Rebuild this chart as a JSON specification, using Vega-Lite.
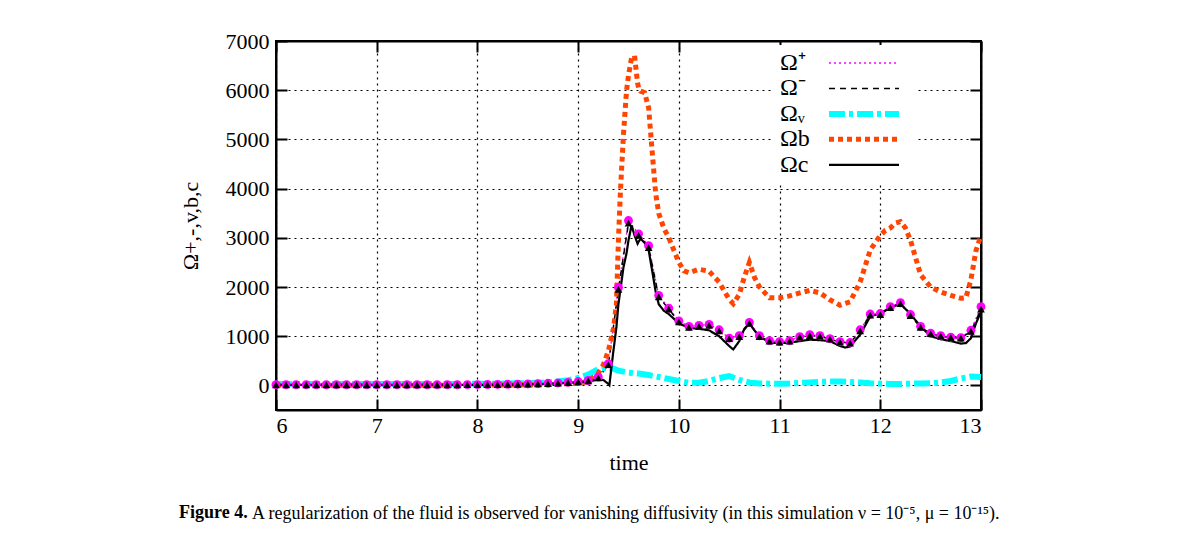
{
  "$schema": "https://vega.github.io/schema/vega-lite/v6.json",
  "autosize": {"type": "pad"},
  "padding": {"left": 178, "top": 29, "right": 0, "bottom": 0},
  "background": "white",
  "bounds": "flush",
  "spacing": 0,
  "config": {
    "font": "Liberation Serif",
    "view": {"stroke": "black", "strokeWidth": 2},
    "axis": {
      "labelFont": "Liberation Serif", "labelFontSize": 22, "labelColor": "black",
      "titleFont": "Liberation Serif", "titleFontSize": 22, "titleFontWeight": "normal", "titleColor": "black",
      "domainColor": "black", "domainWidth": 2, "tickColor": "black", "tickWidth": 2, "tickSize": -11,
      "gridColor": "black", "gridDash": [2, 4], "gridWidth": 1.2, "gridOpacity": 1
    },
    "legend": {
      "orient": "none", "legendX": 497, "legendY": 4, "fillColor": "white", "padding": 6,
      "symbolType": "M-7,0H7", "symbolSize": 100, "rowPadding": 1.45,
      "labelFont": "Liberation Serif", "labelFontSize": 24, "labelColor": "black",
      "labelAlign": "left", "labelOffset": -96, "symbolOffset": 73, "labelLimit": 0
    }
  },
  "title": {
    "text": "A regularization of the fluid is observed for vanishing diffusivity (in this simulation ν = 10⁻⁵, μ = 10⁻¹⁵).",
    "orient": "bottom", "anchor": "start", "dx": 74, "offset": -18,
    "fontSize": 18, "fontWeight": "normal", "font": "Liberation Serif", "color": "black"
  },
  "datasets": {
    "d": [
      {"t": 6.0, "plus": 15, "minus": 12, "v": 30, "b": 5, "c": 10},
      {"t": 6.1, "plus": 15, "minus": 12, "v": 30, "b": 5, "c": 10},
      {"t": 6.2, "plus": 15, "minus": 12, "v": 30, "b": 5, "c": 10},
      {"t": 6.3, "plus": 15, "minus": 12, "v": 30, "b": 5, "c": 10},
      {"t": 6.4, "plus": 15, "minus": 12, "v": 30, "b": 5, "c": 10},
      {"t": 6.5, "plus": 15, "minus": 12, "v": 30, "b": 5, "c": 10},
      {"t": 6.6, "plus": 15, "minus": 12, "v": 30, "b": 5, "c": 10},
      {"t": 6.7, "plus": 15, "minus": 12, "v": 30, "b": 5, "c": 10},
      {"t": 6.8, "plus": 15, "minus": 12, "v": 30, "b": 5, "c": 10},
      {"t": 6.9, "plus": 15, "minus": 12, "v": 30, "b": 5, "c": 10},
      {"t": 7.0, "plus": 15, "minus": 12, "v": 30, "b": 5, "c": 10},
      {"t": 7.1, "plus": 15, "minus": 12, "v": 30, "b": 5, "c": 10},
      {"t": 7.2, "plus": 15, "minus": 12, "v": 30, "b": 5, "c": 10},
      {"t": 7.3, "plus": 15, "minus": 12, "v": 30, "b": 5, "c": 10},
      {"t": 7.4, "plus": 15, "minus": 12, "v": 30, "b": 5, "c": 10},
      {"t": 7.5, "plus": 15, "minus": 12, "v": 30, "b": 5, "c": 10},
      {"t": 7.6, "plus": 15, "minus": 12, "v": 30, "b": 5, "c": 10},
      {"t": 7.7, "plus": 15, "minus": 12, "v": 30, "b": 5, "c": 10},
      {"t": 7.8, "plus": 15, "minus": 12, "v": 31, "b": 5, "c": 10},
      {"t": 7.9, "plus": 16, "minus": 13, "v": 31, "b": 5, "c": 11},
      {"t": 8.0, "plus": 16, "minus": 13, "v": 32, "b": 5, "c": 11},
      {"t": 8.1, "plus": 18, "minus": 15, "v": 33, "b": 6, "c": 12},
      {"t": 8.2, "plus": 20, "minus": 17, "v": 35, "b": 7, "c": 14},
      {"t": 8.3, "plus": 22, "minus": 19, "v": 38, "b": 9, "c": 16},
      {"t": 8.4, "plus": 25, "minus": 22, "v": 42, "b": 11, "c": 18},
      {"t": 8.5, "plus": 30, "minus": 26, "v": 48, "b": 14, "c": 22},
      {"t": 8.6, "plus": 35, "minus": 30, "v": 55, "b": 17, "c": 26},
      {"t": 8.7, "plus": 42, "minus": 36, "v": 65, "b": 21, "c": 32},
      {"t": 8.8, "plus": 50, "minus": 45, "v": 80, "b": 27, "c": 40},
      {"t": 8.9, "plus": 62, "minus": 55, "v": 105, "b": 34, "c": 50},
      {"t": 9.0, "plus": 78, "minus": 70, "v": 150, "b": 45, "c": 62},
      {"t": 9.1, "plus": 100, "minus": 92, "v": 220, "b": 80, "c": 80},
      {"t": 9.2, "plus": 170, "minus": 150, "v": 330, "b": 250, "c": 120},
      {"t": 9.25, "v": 350, "b": 420, "c": 110},
      {"t": 9.3, "plus": 440, "minus": 420, "v": 360, "b": 700, "c": 30},
      {"t": 9.31, "c": 5},
      {"t": 9.35, "v": 340, "b": 1150, "c": 700},
      {"t": 9.38, "b": 1650, "c": 1180},
      {"t": 9.4, "plus": 1990, "minus": 1950, "v": 300, "b": 2950, "c": 1650},
      {"t": 9.42, "b": 3950},
      {"t": 9.45, "b": 5100, "c": 2400},
      {"t": 9.48, "b": 5980, "c": 2680},
      {"t": 9.5, "plus": 3350, "minus": 3300, "v": 260, "b": 6300, "c": 2950},
      {"t": 9.53, "b": 6650, "c": 3250},
      {"t": 9.56, "b": 6700, "c": 3050},
      {"t": 9.59, "b": 6150, "c": 2880},
      {"t": 9.6, "plus": 3080, "minus": 3050, "v": 240, "b": 6050, "c": 2920},
      {"t": 9.62, "b": 5980, "c": 2980},
      {"t": 9.66, "b": 5950, "c": 2900},
      {"t": 9.7, "plus": 2840, "minus": 2800, "v": 210, "b": 5640, "c": 2750},
      {"t": 9.74, "b": 4630, "c": 2270},
      {"t": 9.77, "b": 3900, "c": 1900},
      {"t": 9.8, "plus": 1830, "minus": 1800, "v": 170, "b": 3500, "c": 1650},
      {"t": 9.85, "b": 3200, "c": 1520},
      {"t": 9.9, "plus": 1570, "minus": 1550, "v": 130, "b": 3000, "c": 1450},
      {"t": 10.0, "plus": 1310, "minus": 1290, "v": 90, "b": 2500, "c": 1260},
      {"t": 10.05, "b": 2330},
      {"t": 10.1, "plus": 1200, "minus": 1180, "v": 50, "b": 2290, "c": 1170},
      {"t": 10.2, "plus": 1220, "minus": 1200, "v": 55, "b": 2360, "c": 1150},
      {"t": 10.3, "plus": 1240, "minus": 1220, "v": 90, "b": 2320, "c": 1120},
      {"t": 10.4, "plus": 1130, "minus": 1110, "v": 150, "b": 2100, "c": 1000},
      {"t": 10.45, "b": 1920, "c": 900},
      {"t": 10.5, "plus": 960, "minus": 950, "v": 190, "b": 1750, "c": 800},
      {"t": 10.54, "b": 1660, "c": 730},
      {"t": 10.6, "plus": 1010, "minus": 990, "v": 110, "b": 1850, "c": 900},
      {"t": 10.65, "b": 2200, "c": 1150},
      {"t": 10.7, "plus": 1280, "minus": 1260, "v": 60, "b": 2500, "c": 1260},
      {"t": 10.75, "b": 2200, "c": 1120},
      {"t": 10.8, "plus": 1010, "minus": 990, "v": 40, "b": 2000, "c": 1000},
      {"t": 10.9, "plus": 910, "minus": 900, "v": 35, "b": 1780, "c": 870},
      {"t": 11.0, "plus": 890, "minus": 880, "v": 35, "b": 1780, "c": 860},
      {"t": 11.1, "plus": 910, "minus": 900, "v": 40, "b": 1820, "c": 870},
      {"t": 11.2, "plus": 990, "minus": 980, "v": 50, "b": 1880, "c": 900},
      {"t": 11.3, "plus": 1030, "minus": 1010, "v": 60, "b": 1930, "c": 930},
      {"t": 11.4, "plus": 1010, "minus": 1000, "v": 70, "b": 1880, "c": 920},
      {"t": 11.5, "plus": 950, "minus": 940, "v": 80, "b": 1740, "c": 900},
      {"t": 11.6, "plus": 890, "minus": 880, "v": 80, "b": 1630, "c": 800},
      {"t": 11.65, "c": 770},
      {"t": 11.7, "plus": 870, "minus": 860, "v": 70, "b": 1700, "c": 790},
      {"t": 11.8, "plus": 1130, "minus": 1110, "v": 60, "b": 2100, "c": 1030},
      {"t": 11.9, "plus": 1450, "minus": 1430, "v": 45, "b": 2750, "c": 1400},
      {"t": 12.0, "plus": 1460, "minus": 1440, "v": 35, "b": 3050, "c": 1470},
      {"t": 12.05, "b": 3150},
      {"t": 12.1, "plus": 1600, "minus": 1580, "v": 30, "b": 3200, "c": 1580},
      {"t": 12.15, "b": 3300},
      {"t": 12.2, "plus": 1680, "minus": 1660, "v": 30, "b": 3330, "c": 1660},
      {"t": 12.25, "b": 3200},
      {"t": 12.3, "plus": 1440, "minus": 1420, "v": 35, "b": 2950, "c": 1450},
      {"t": 12.4, "plus": 1200, "minus": 1180, "v": 40, "b": 2250, "c": 1200},
      {"t": 12.5, "plus": 1060, "minus": 1050, "v": 45, "b": 2000, "c": 1000},
      {"t": 12.6, "plus": 1010, "minus": 1000, "v": 60, "b": 1900, "c": 940},
      {"t": 12.7, "plus": 980, "minus": 970, "v": 90, "b": 1830, "c": 900},
      {"t": 12.8, "plus": 970, "minus": 960, "v": 140, "b": 1770, "c": 850},
      {"t": 12.85, "b": 1780, "c": 860},
      {"t": 12.9, "plus": 1120, "minus": 1100, "v": 180, "b": 2150, "c": 960},
      {"t": 12.95, "b": 2740, "c": 1260},
      {"t": 13.0, "plus": 1600, "minus": 1550, "v": 170, "b": 3050, "c": 1500}
    ]
  },
  "vconcat": [
    {
      "width": 705,
      "height": 369,
      "data": {"name": "d"},
      "title": {
        "text": "Figure 4.", "orient": "bottom", "anchor": "start", "dx": 0, "offset": 31,
        "fontSize": 18, "fontWeight": "bold", "font": "Liberation Serif", "color": "black"
      },
      "resolve": {"axis": {"x": "independent", "y": "independent"}},
      "layer": [
        {
          "transform": [{"fold": ["plus", "minus", "v", "b", "c"], "as": ["series", "value"]}],
          "mark": {"type": "line", "strokeCap": "butt", "invalid": "filter"},
          "encoding": {
            "x": {"field": "t", "type": "quantitative",
                  "scale": {"domain": [6, 13], "nice": false, "zero": false},
                  "axis": {"values": [6, 7, 8, 9, 10, 11, 12, 13], "title": "time", "grid": true, "labelPadding": 16, "titlePadding": 16}},
            "y": {"field": "value", "type": "quantitative",
                  "scale": {"domain": [-500, 7000], "nice": false, "zero": false},
                  "axis": {"values": [0, 1000, 2000, 3000, 4000, 5000, 6000, 7000], "format": "d", "title": "Ω+,-,v,b,c", "grid": true, "labelPadding": 18, "titlePadding": 23}},
            "color": {"field": "series", "type": "nominal",
                      "scale": {"domain": ["plus", "minus", "v", "b", "c"], "range": ["#ff00ff", "#000000", "#00ffff", "#ff4500", "#000000"]},
                      "legend": {"title": null, "labelExpr": "datum.label == 'plus' ? 'Ω⁺' : datum.label == 'minus' ? 'Ω⁻' : datum.label == 'v' ? 'Ωᵥ' : datum.label == 'b' ? 'Ωb' : 'Ωc'"}},
            "strokeDash": {"field": "series", "type": "nominal",
                      "scale": {"domain": ["plus", "minus", "v", "b", "c"], "range": [[2, 3], [6, 5], [16, 4, 4, 4], [5, 4], [1, 0]]},
                      "legend": {"title": null, "labelExpr": "datum.label == 'plus' ? 'Ω⁺' : datum.label == 'minus' ? 'Ω⁻' : datum.label == 'v' ? 'Ωᵥ' : datum.label == 'b' ? 'Ωb' : 'Ωc'"}},
            "strokeWidth": {"field": "series", "type": "nominal",
                      "scale": {"type": "ordinal", "domain": ["plus", "minus", "v", "b", "c"], "range": [1.3, 1.5, 6, 5, 2.2]},
                      "legend": {"title": null, "labelExpr": "datum.label == 'plus' ? 'Ω⁺' : datum.label == 'minus' ? 'Ω⁻' : datum.label == 'v' ? 'Ωᵥ' : datum.label == 'b' ? 'Ωb' : 'Ωc'"}}
          }
        },
        {
          "transform": [{"filter": "isValid(datum.plus)"}],
          "mark": {"type": "point", "shape": "circle", "filled": true, "color": "#ff00ff", "size": 80, "opacity": 1},
          "encoding": {
            "x": {"field": "t", "type": "quantitative",
                  "axis": {"orient": "top", "labels": false, "grid": false, "values": [6, 7, 8, 9, 10, 11, 12, 13], "title": null}},
            "y": {"field": "plus", "type": "quantitative",
                  "axis": {"orient": "right", "labels": false, "grid": false, "values": [0, 1000, 2000, 3000, 4000, 5000, 6000, 7000], "title": null}}
          }
        },
        {
          "transform": [{"filter": "isValid(datum.minus)"}],
          "mark": {"type": "point", "shape": "triangle-up", "filled": true, "color": "#000000", "size": 60, "opacity": 1},
          "encoding": {
            "x": {"field": "t", "type": "quantitative", "axis": null},
            "y": {"field": "minus", "type": "quantitative", "axis": null}
          }
        }
      ]
    }
  ]
}
